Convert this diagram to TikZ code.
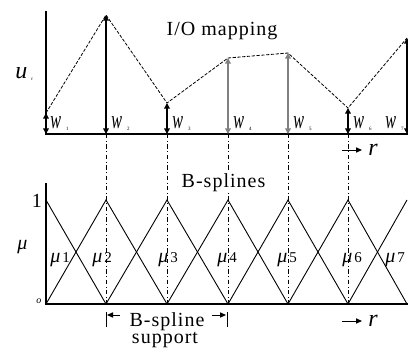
\documentclass[tikz,border=0pt]{standalone}
\usepackage{fontspec}
\setmainfont{Liberation Serif}
\newfontfamily\spacedfont[LetterSpace=5]{Liberation Serif}
\usetikzlibrary{positioning, calc, arrows.meta}

\newcommand{\tinysub}[1]{\raisebox{-1.2pt}{\fontsize{2.5}{3}\selectfont\upshape #1}}
\newcommand{\wname}[1]{\scalebox{0.62}[1]{\fontsize{13}{13}\selectfont\itshape w}\hspace{2.5pt}\tinysub{#1}}
\newcommand{\muname}[1]{{\itshape μ}\hspace{1pt}{\fontsize{7.5}{8}\selectfont\raisebox{-0.4pt}{#1}}}

\begin{document}
\begin{tikzpicture}[x=0.5pt, y=-0.5pt,
    axis/.style={line width=0.65pt},
    weight/.style={line width=0.65pt, {Triangle[length=2.8pt, width=2.8pt]}-{Triangle[length=2.8pt, width=2.8pt]}},
    mapline/.style={line width=0.4pt, dash pattern=on 1.6pt off 0.8pt},
    knotline/.style={line width=0.45pt, dash pattern=on 2.2pt off 1.3pt on 0.4pt off 1.3pt},
    spline/.style={line width=0.45pt},
    wlabel/.style={inner sep=0pt, anchor=base west},
    mulabel/.style={inner sep=0pt, anchor=base west, font=\fontsize{10}{10}\selectfont},
    title/.style={inner sep=1pt, anchor=base, font=\spacedfont\fontsize{10}{11}\selectfont},
    >={Triangle[length=3pt, width=2.6pt]},
]
\useasboundingbox (0,0) rectangle (408,354);

% knots on both baselines and at height 1
\foreach \i/\x in {1/46, 2/106, 3/167, 4/228, 5/288, 6/348, 7/407} {
    \coordinate (t\i) at (\x,134);
    \coordinate (b\i) at (\x,304);
    \coordinate (h\i) at (\x,200);
}

% I/O mapping points
\coordinate (p1) at (46,113);
\coordinate (p2) at (106,15);
\coordinate (p3) at (167,103);
\coordinate (p4) at (228,58);
\coordinate (p5) at (288,53);
\coordinate (p6) at (348,108);
\coordinate (p7) at (407,38);

\coordinate (utop) at (46,11);
\coordinate (uend) at (408,134);
\coordinate (mtop) at (46,183);
\coordinate (mend) at (408,304);

% dash-dot knot lines
\foreach \i in {2,...,6}
    \draw[knotline] (t\i) -- (b\i);

% axes
\draw[axis] (utop) -- (t1) -- (uend);
\draw[axis] (mtop) -- (b1) -- (mend);

% weights
\foreach \i in {1,2,3,6,7}
    \draw[weight] (t\i) -- (p\i);
\foreach \i in {4,5}
    \draw[weight, gray] (t\i) -- (p\i);

\draw[mapline] (p1) -- (p2) -- (p3) -- (p4) -- (p5) -- (p6) -- (p7);

% B-splines
\draw[spline] (h1) -- (b2) -- (h3) -- (b4) -- (h5) -- (b6) -- (h7);
\draw[spline] (b1) -- (h2) -- (b3) -- (h4) -- (b5) -- (h6) -- (b7);

% labels, top
\node[title] (iomap) at (222,35) {I/O mapping};
\node[inner sep=0pt, anchor=base west] (ulab) at (15,78) {\fontsize{12}{12}\selectfont\itshape u\hspace{2pt}\tinysub{r}};
\node[wlabel] (w1) at (50,128) {\wname{1}};
\node[wlabel] (w2) at (111,128) {\wname{2}};
\node[wlabel] (w3) at (172,128) {\wname{3}};
\node[wlabel] (w4) at (233,128) {\wname{4}};
\node[wlabel] (w5) at (293,128) {\wname{5}};
\node[wlabel] (w6) at (353,128) {\wname{6}};
\node[wlabel] (w7) at (385,128) {\wname{7}};

\coordinate (rtail1) at (342,150);
\node[inner sep=0pt, anchor=base west, font=\fontsize{12}{12}\selectfont\itshape] (r1) at (368,155) {r};
\draw[->, line width=0.5pt] (rtail1) -- ++(20,0);

% labels, bottom
\node[title, fill=white] (bspl) at (223.5,187) {B-splines};
\node[inner sep=0pt, anchor=base west, font=\fontsize{10}{10}\selectfont\itshape] (mulab) at (17,249) {μ};
\node[inner sep=0pt, anchor=base, font=\fontsize{10}{10}\selectfont] (one) at (37,207) {1};
\node[inner sep=0pt, font=\fontsize{5}{5}\selectfont\itshape] (zero) at (39,301) {o};
\node[mulabel] (mu1) at (50,262) {\muname{1}};
\node[mulabel] (mu2) at (92,262) {\muname{2}};
\node[mulabel] (mu3) at (158,262) {\muname{3}};
\node[mulabel] (mu4) at (217,262) {\muname{4}};
\node[mulabel] (mu5) at (277,262) {\muname{5}};
\node[mulabel] (mu6) at (342,262) {\muname{6}};
\node[mulabel] (mu7) at (385,262) {\muname{7}};

\coordinate (rtail2) at (342,321);
\node[inner sep=0pt, anchor=base west, font=\fontsize{12}{12}\selectfont\itshape] (r2) at (368,326) {r};
\draw[->, line width=0.5pt] (rtail2) -- ++(20,0);

% support
\node[title] (supp) at (167,326) {B-spline};
\node[title] (supp2) at (165,343) {support};
\coordinate (sl) at (106,315);
\coordinate (sr) at (227,315);
\draw[line width=0.5pt] ($(sl)+(0,-3)$) -- ($(sl)+(0,12)$);
\draw[line width=0.5pt] ($(sr)+(0,-3)$) -- ($(sr)+(0,12)$);
\draw[->, line width=0.5pt] ($(sl)+(14,0)$) -- ($(sl)+(1,0)$);
\draw[->, line width=0.5pt] ($(sr)+(-15,0)$) -- ($(sr)+(-1,0)$);

\end{tikzpicture}
\end{document}
